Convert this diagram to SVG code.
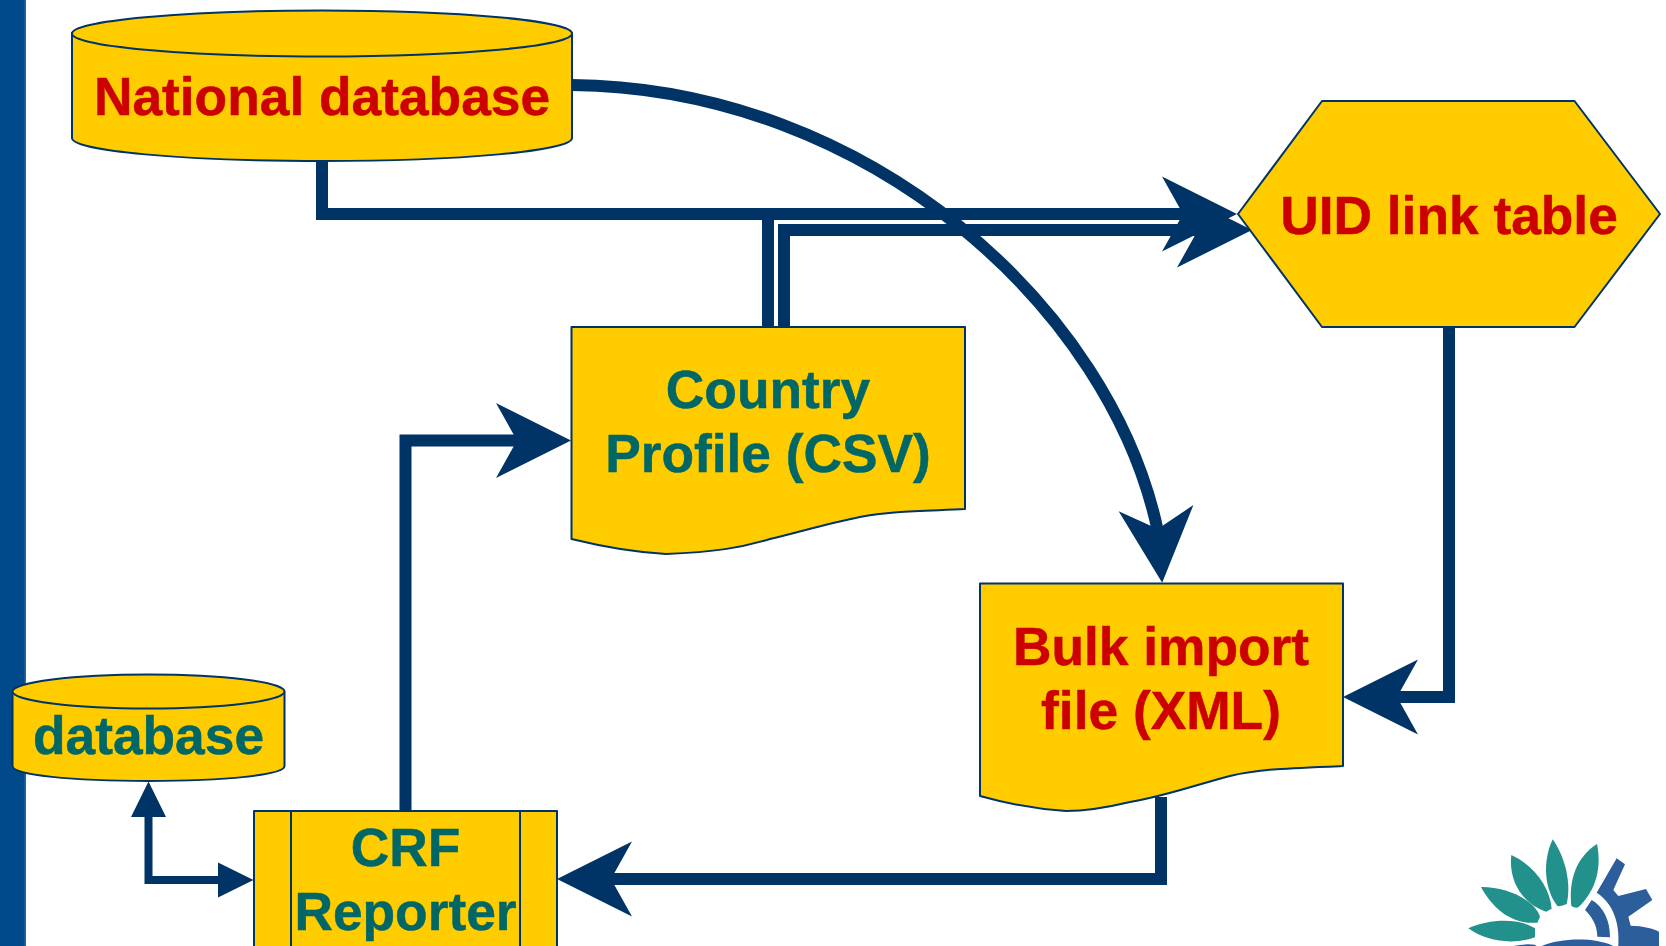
<svg xmlns="http://www.w3.org/2000/svg" width="1666" height="946" viewBox="0 0 1666 946">
<style>
.n{fill:#ffcc00;stroke:#003366;stroke-width:2;stroke-linejoin:round}
.l{fill:none;stroke:#003366;stroke-width:2}
.c{fill:none;stroke:#003366;stroke-width:12}
.t{font-family:"Liberation Sans",Arial,sans-serif;font-weight:700;font-size:53.300px;text-anchor:middle;stroke-width:.5px}
.r{fill:#cc0000;stroke:#cc0000}.g{fill:#006666;stroke:#006666}
.p{fill:#22918c}.b{fill:#2b5e9b}
</style>
<defs>
<linearGradient id="bar" x1="0" x2="1" y1="0" y2="0"><stop offset="0" stop-color="#004a8c"/><stop offset=".9" stop-color="#004a8c"/><stop offset="1" stop-color="#2f6f9f"/></linearGradient>
<marker id="big" markerUnits="userSpaceOnUse" markerWidth="76" markerHeight="76" viewBox="0 -38 76 76" refX="24" refY="0" orient="auto"><path d="M0,-37.5L75,0L0,37.5L21,0Z" fill="#003366"/></marker>
<marker id="bigc" markerUnits="userSpaceOnUse" markerWidth="76" markerHeight="76" viewBox="0 -38 76 76" refX="24" refY="0" orient="85.3"><path d="M0,-37.5L75,0L0,37.5L21,0Z" fill="#003366"/></marker>
<marker id="small" markerUnits="userSpaceOnUse" markerWidth="37" markerHeight="37" viewBox="0 -18.5 37 37" refX="10" refY="0" orient="auto-start-reverse"><path d="M0,-17.5L35.5,0L0,17.5Z" fill="#003366"/></marker>
</defs>
<rect id="sidebar" x="0" y="0" width="26" height="946" fill="url(#bar)"/>
<g id="connectors">
<path class="c" d="M322,161V214H1186" marker-end="url(#big)"/>
<path class="c" d="M768,327V214"/>
<path class="c" d="M784,327V230H1201" marker-end="url(#big)"/>
<path class="c" d="M572,85C870,88 1112,310 1158,532" marker-end="url(#bigc)"/>
<path class="c" d="M1449,327V697H1394" marker-end="url(#big)"/>
<path class="c" d="M1161,797V879H608" marker-end="url(#big)"/>
<path class="c" d="M405.500,811V440.500H520" marker-end="url(#big)"/>
<path class="c" style="stroke-width:8" d="M148.500,807V880H228" marker-start="url(#small)" marker-end="url(#small)"/>
</g>
<g id="national-database">
<path class="n" d="M72,33V138C72,151 184,161 322,161S572,151 572,138V33Z"/>
<ellipse class="n" cx="322" cy="33.500" rx="250" ry="23"/>
<text class="t r" x="322" y="115">National database</text>
</g>
<g id="uid-link-table">
<path class="n" d="M1238,214L1322,101H1574.500L1660,214L1574.500,327H1322Z"/>
<text class="t r" x="1449" y="234">UID link table</text>
</g>
<g id="country-profile">
<path class="n" d="M571.500,327H965V509C925,511 890,511 860,517C825,524 800,532 770,539C740,548 715,552 666,554C630,552 600,546 571.500,539Z"/>
<text class="t g" x="768" y="408">Country</text>
<text class="t g" x="768" y="472">Profile (CSV)</text>
</g>
<g id="bulk-import">
<path class="n" d="M980,583.500H1343V766C1290,768 1260,769 1230,776C1195,785 1170,795 1130,802C1105,808 1085,811 1066,811C1035,809 1005,803 980,796Z"/>
<text class="t r" x="1161" y="665">Bulk import</text>
<text class="t r" x="1161" y="729">file (XML)</text>
</g>
<g id="database">
<path class="n" d="M12.500,692V766C12.500,775 72,781 148.500,781S284.500,775 284.500,766V692Z"/>
<ellipse class="n" cx="148.500" cy="691.500" rx="136" ry="17"/>
<text class="t g" x="148.500" y="754">database</text>
</g>
<g id="crf-reporter">
<rect class="n" x="254" y="811" width="303" height="150"/>
<path class="l" d="M291,811V946M520,811V946"/>
<text class="t g" x="405.500" y="866">CRF</text>
<text class="t g" x="405.500" y="930">Reporter</text>
</g>
<g id="logo" transform="translate(1400 800) scale(.33333)">
<path class="p" d="M458 118C495 170 515 250 500 312Q485 320 472 318C435 270 425 190 458 118Z"/>
<path class="p" d="M591 132C605 200 590 270 535 322Q525 325 514 318C505 240 530 170 591 132Z"/>
<path class="p" d="M334 165C400 195 450 260 455 326L438 335C365 310 325 240 334 165Z"/>
<path class="p" d="M243 261C320 260 405 300 420 350L412 368C330 375 275 320 243 261Z"/>
<path class="p" d="M205 385C270 355 360 355 405 385L405 412C340 435 260 425 205 385Z"/>
<path class="b" d="M650 175L675 193L640 270L655 288L738 267L757 300L685 350L692 377C730 378 760 385 777 395V438H655C660 370 640 310 590 278Z"/>
<path class="b" d="M575 300C610 320 630 360 630 412L592 410C592 375 575 350 555 330Z"/>
<path class="b" d="M425 438C480 415 580 410 640 438Z"/>
<path class="b" d="M340 438Q375 430 410 435L405 438Z"/>
</g>
</svg>
